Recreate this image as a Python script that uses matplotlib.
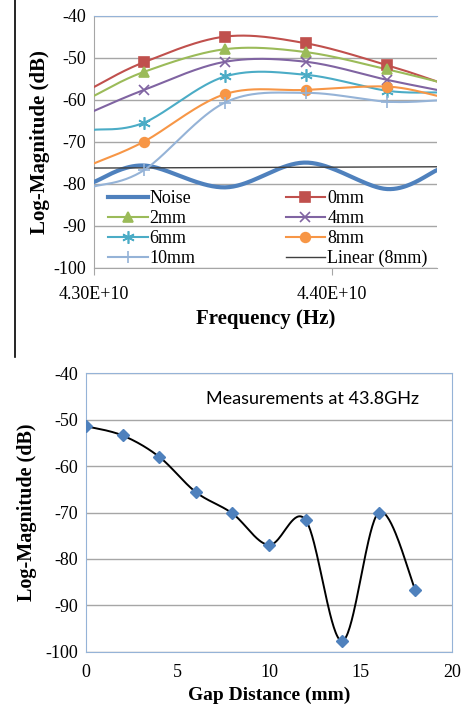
import numpy as np
import matplotlib
matplotlib.use("Agg")
import matplotlib.pyplot as plt
from matplotlib.ticker import FuncFormatter, MultipleLocator
from matplotlib.lines import Line2D

# frequency sweep (Hz): axis edges plus the four measured points
freq = np.array([43.00, 43.21, 43.55, 43.89, 44.23, 44.44]) * 1e9
noise = [-79.5, -75.6, -80.8, -74.9, -81.2, -76.7]
gap_0mm = [-56.9, -51.0, -44.9, -46.5, -51.7, -55.6]
gap_2mm = [-59.0, -53.3, -47.9, -48.6, -52.7, -55.6]
gap_4mm = [-62.6, -57.6, -50.9, -50.9, -55.2, -57.6]
gap_6mm = [-67.1, -65.4, -54.4, -54.0, -57.8, -58.2]
gap_8mm = [-75.1, -69.9, -58.6, -57.6, -56.8, -59.0]
gap_10mm = [-80.6, -76.7, -60.6, -58.3, -60.4, -60.1]
linear_8mm = [-76.2, -75.9]   # trendline at the axis edges

# measurements at 43.8 GHz vs gap distance
gap_mm = [0, 2, 4, 6, 8, 10, 12, 14, 16, 18]
mag_43_8 = [-51.4, -53.4, -58.0, -65.6, -70.2, -77.0, -71.6, -97.7, -70.0, -86.7]


def smooth(x, y, n=40):
    # Catmull-Rom curve, close to Excel's "smoothed line"
    pts = np.column_stack([x, y]).astype(float)
    p = np.vstack([pts[0], pts, pts[-1]])
    t = np.linspace(0, 1, n)[:, None]
    segs = []
    for i in range(1, len(p) - 2):
        p0, p1, p2, p3 = p[i - 1], p[i], p[i + 1], p[i + 2]
        segs.append(0.5 * (2 * p1 + (-p0 + p2) * t
                           + (2 * p0 - 5 * p1 + 4 * p2 - p3) * t ** 2
                           + (-p0 + 3 * p1 - 3 * p2 + p3) * t ** 3))
    c = np.vstack(segs)
    return c[:, 0], c[:, 1]


plt.rcParams['font.family'] = ['Liberation Serif', 'DejaVu Serif']
plt.rcParams['axes.unicode_minus'] = False
fig = plt.figure(figsize=(4.67, 7.06), dpi=100)
grid_c = '#a6a6a6'
frame_c = '#95b3d7'

# ---------------- top chart ----------------
ax = fig.add_axes([94 / 467, 1 - 268 / 706, 343 / 467, 252 / 706])
series = [
    ('0mm', gap_0mm, '#c0504d', 's', 7),
    ('2mm', gap_2mm, '#9bbb59', '^', 7),
    ('4mm', gap_4mm, '#8064a2', 'x', 7),
    ('6mm', gap_6mm, '#4bacc6', (6, 2, 0), 9),
    ('8mm', gap_8mm, '#f79646', 'o', 7),
    ('10mm', gap_10mm, '#95b3d7', '+', 9),
]
xs, ys = smooth(freq, noise)
ax.plot(xs, ys, color='#4f81bd', lw=3, zorder=3)
handles = {'Noise': Line2D([], [], color='#4f81bd', lw=3)}
for name, vals, col, mk, ms in series:
    xs, ys = smooth(freq, vals)
    ax.plot(xs, ys, color=col, lw=1.5, zorder=4)
    ax.plot(freq[1:-1], vals[1:-1], ls='none', marker=mk, ms=ms, color=col,
            mew=1.2, zorder=5)
    handles[name] = Line2D([], [], color=col, lw=1.5, marker=mk, ms=ms, mew=1.2)
ax.plot([freq[0], freq[-1]], linear_8mm, color='#404040', lw=1, zorder=3)
handles['Linear (8mm)'] = Line2D([], [], color='#404040', lw=1)

ax.set_xlim(freq[0], freq[-1])
ax.set_ylim(-100, -40)
ax.set_xticks([43e9, 44e9])
ax.xaxis.set_major_formatter(FuncFormatter(lambda v, p: f"{v:.2E}"))
ax.yaxis.set_major_locator(MultipleLocator(10))
ax.grid(axis='y', color=grid_c, lw=1)
ax.set_axisbelow(True)
ax.spines['right'].set_visible(False)
ax.spines['top'].set_color(frame_c)
ax.spines['left'].set_color(grid_c)
ax.spines['bottom'].set_color(grid_c)
ax.tick_params(axis='x', length=5, color=grid_c, labelsize=13, pad=8)
ax.tick_params(axis='y', length=0, labelsize=13, pad=6)
ax.set_xlabel('Frequency (Hz)', fontsize=15, fontweight='bold', labelpad=4)
ax.set_ylabel('Log-Magnitude (dB)', fontsize=15, fontweight='bold', labelpad=2)

order = ['Noise', '2mm', '6mm', '10mm', '0mm', '4mm', '8mm', 'Linear (8mm)']
ax.legend([handles[k] for k in order], order, ncol=2, loc='lower left',
          bbox_to_anchor=(0.035, -0.005), frameon=False, fontsize=13,
          handlelength=2.2, handletextpad=0.1, labelspacing=0.17,
          columnspacing=5.0, borderaxespad=0, borderpad=0.1)

# ---------------- bottom chart ----------------
bx = fig.add_axes([86 / 467, 1 - 651.7 / 706, 366 / 467, 278.4 / 706])
xs, ys = smooth(gap_mm, mag_43_8)
bx.plot(xs, ys, color='black', lw=1.4, zorder=3)
bx.plot(gap_mm, mag_43_8, ls='none', marker='D', ms=6, color='#4f81bd', zorder=4)
bx.set_xlim(0, 20)
bx.set_ylim(-100, -40)
bx.xaxis.set_major_locator(MultipleLocator(5))
bx.yaxis.set_major_locator(MultipleLocator(10))
bx.grid(axis='y', color=grid_c, lw=1)
bx.set_axisbelow(True)
for s in bx.spines.values():
    s.set_color(frame_c)
bx.tick_params(axis='x', length=0, labelsize=13, pad=9)
bx.tick_params(axis='y', length=0, labelsize=13, pad=6)
bx.set_xlabel('Gap Distance (mm)', fontsize=14, fontweight='bold', labelpad=4)
bx.set_ylabel('Log-Magnitude (dB)', fontsize=14.5, fontweight='bold', labelpad=6)
bx.text(0.91, 0.908, 'Measurements at 43.8GHz', transform=bx.transAxes,
        ha='right', va='center', fontsize=13, family='Lato')

# page rule on the left
fig.add_artist(Line2D([15 / 467, 15 / 467], [1, 1 - 357 / 706],
                      transform=fig.transFigure, color='black', lw=1.2))

fig.savefig('out.png', dpi=100)
